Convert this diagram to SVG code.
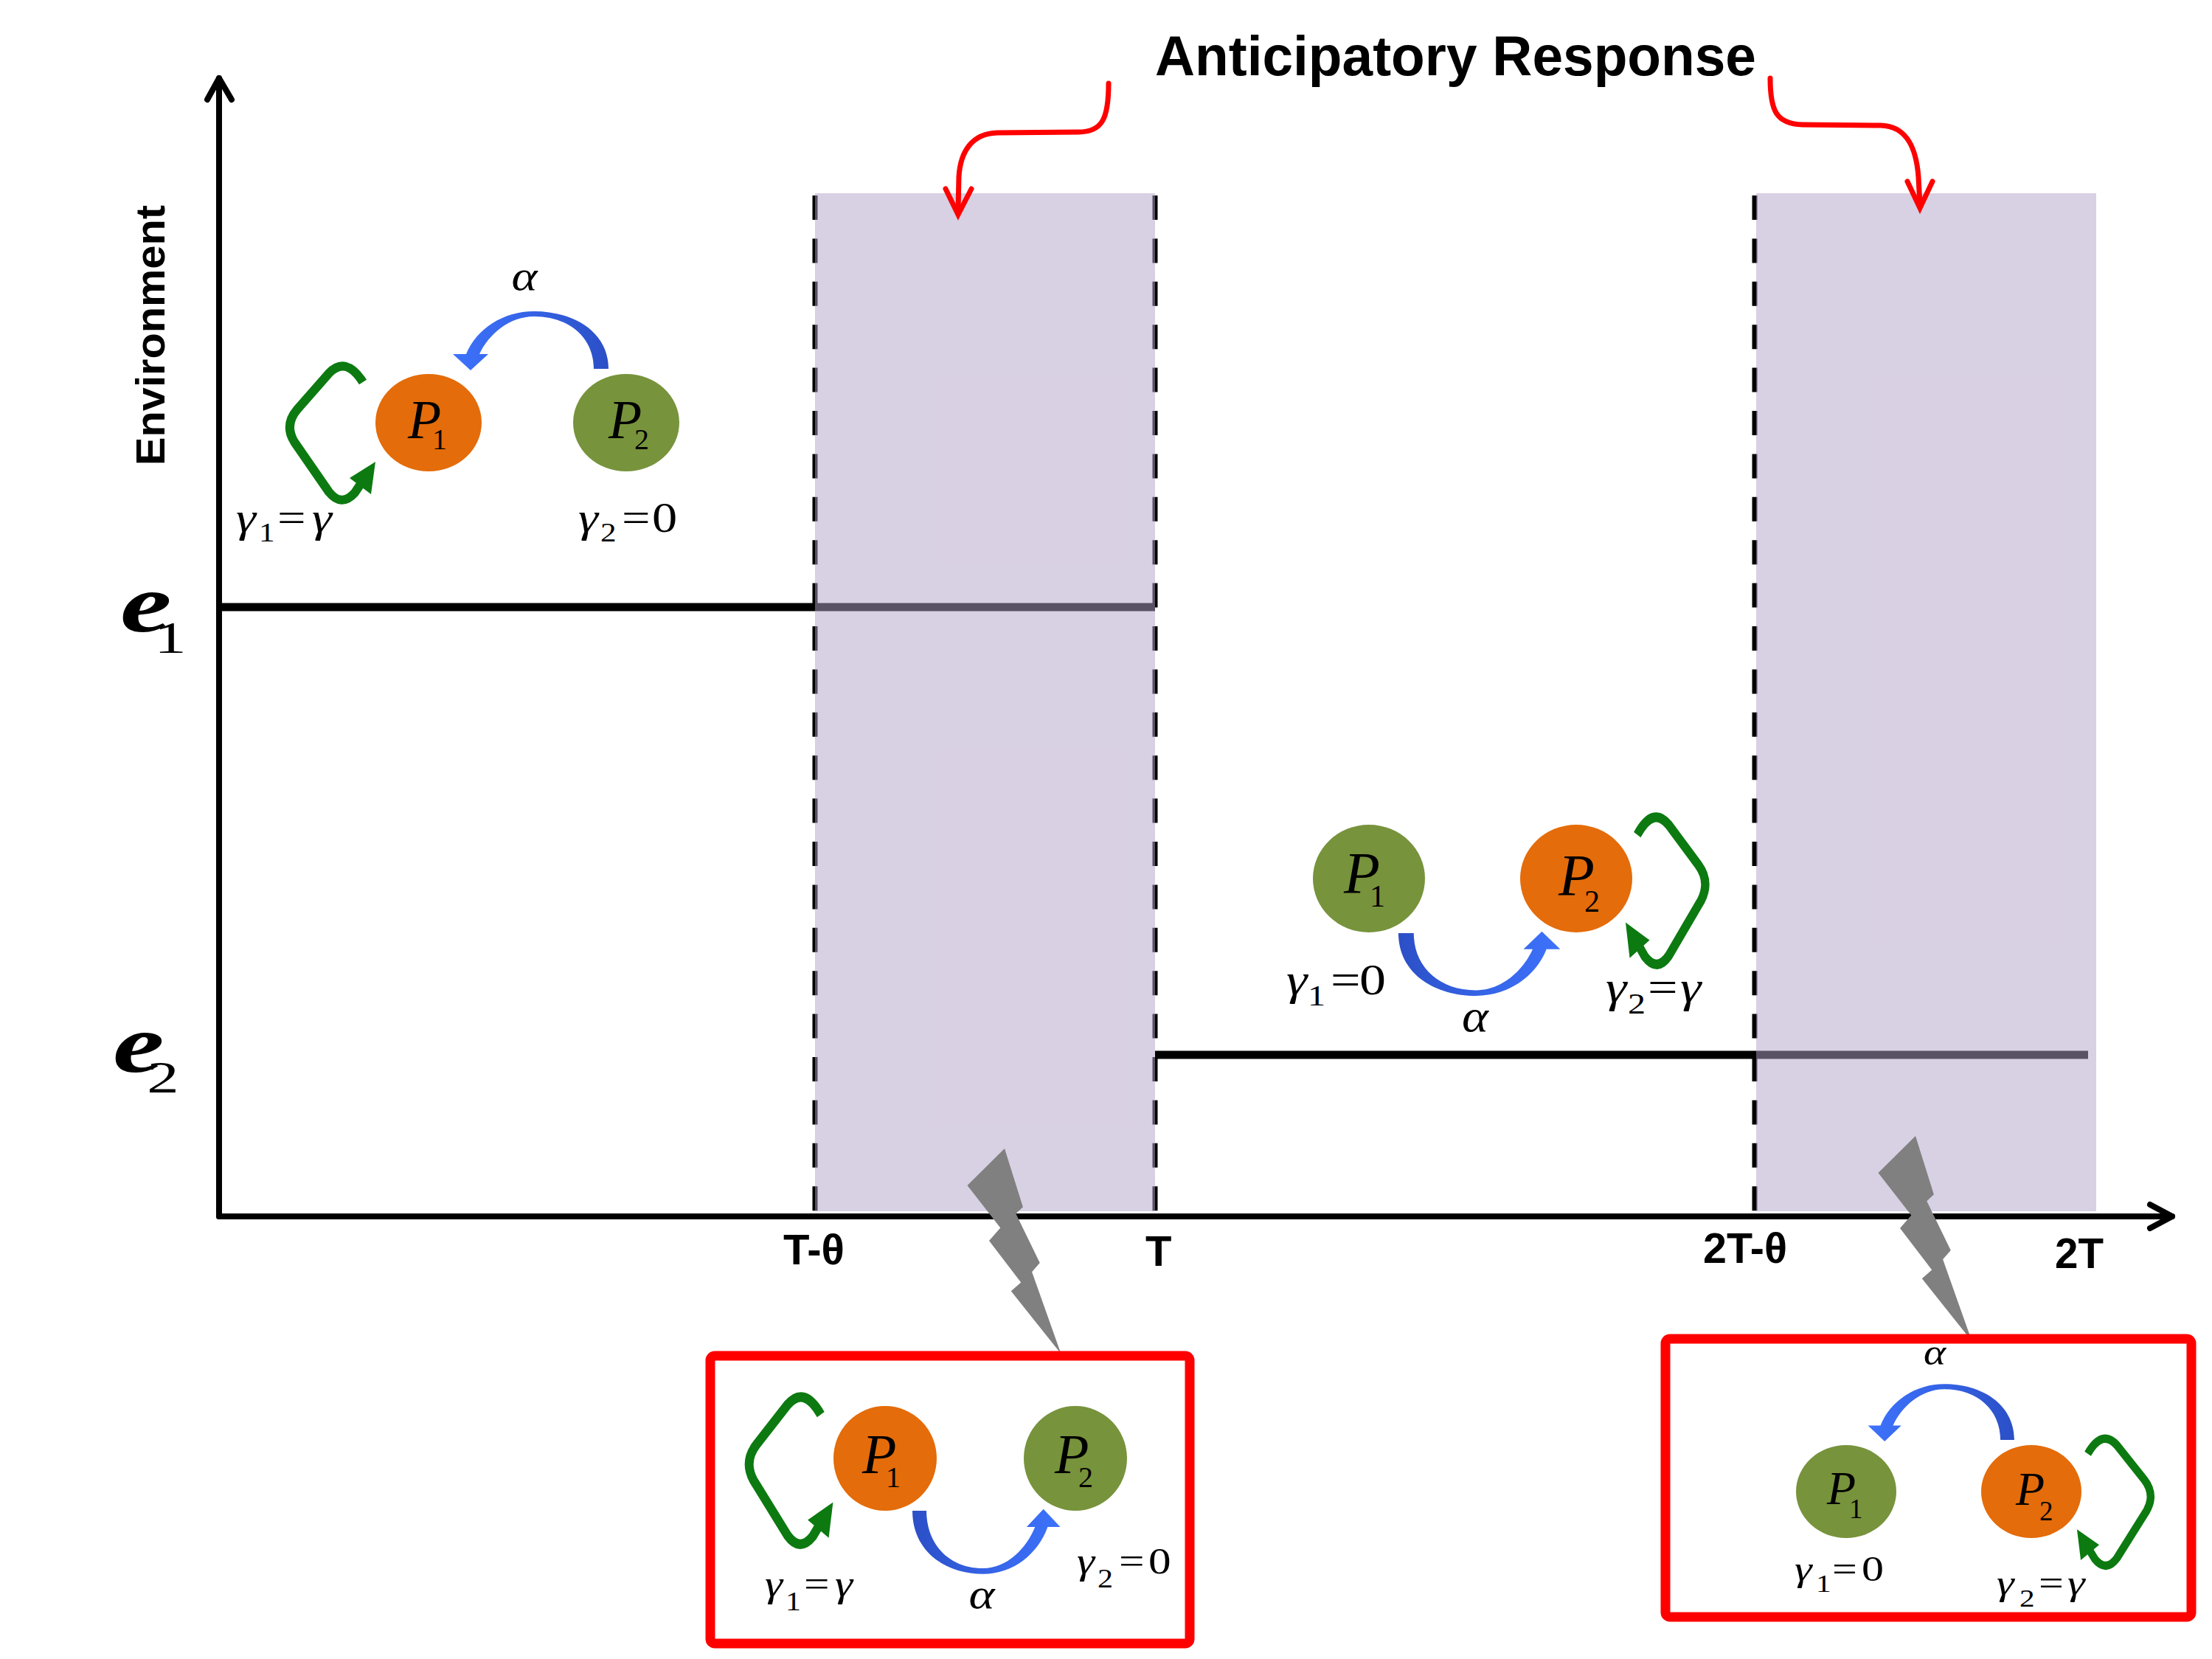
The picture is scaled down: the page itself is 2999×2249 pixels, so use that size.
<svg xmlns="http://www.w3.org/2000/svg" xmlns:xlink="http://www.w3.org/1999/xlink" width="2999" height="2249" viewBox="0 0 2999 2249">
<defs>
<style>
.m{font-family:"Liberation Serif","Times New Roman",serif;font-style:italic;fill:#000}
.u{font-family:"Liberation Serif","Times New Roman",serif;font-style:normal;fill:#000}
.lab{font-family:"Liberation Sans",Arial,sans-serif;font-weight:bold;fill:#000}
.axis{stroke:#000;stroke-width:8;fill:none;stroke-linecap:round;stroke-linejoin:round}
.lvl{stroke:#000;stroke-width:11;fill:none}
.dash{stroke:#000;stroke-width:7;stroke-dasharray:33 25.4;fill:none}
.shade{fill:rgb(178,161,200);fill-opacity:0.5}
.red{stroke:#ff0000;stroke-width:7;fill:none;stroke-linecap:round}
.redhead{stroke:#ff0000;stroke-width:7;fill:none;stroke-linecap:round;stroke-linejoin:miter}
.box{stroke:#ff0000;stroke-width:13;fill:none}
.orange{fill:#e46c0a}
.green{fill:#77933c}
.loop{stroke:#0c7a10;stroke-width:12;fill:none;stroke-linejoin:round}
.loophead{fill:#0c7a10}
.bolt{fill:#808080}
</style>
<linearGradient id="blueGrad" x1="0" y1="0" x2="1" y2="0">
<stop offset="0" stop-color="#3d72fb"/>
<stop offset="0.5" stop-color="#3563e6"/>
<stop offset="1" stop-color="#2b4fc6"/>
</linearGradient>
<path id="bluearc" fill="url(#blueGrad)" d="M101,0 C101,-50 54,-78 0,-78 C-42,-78 -78,-54 -92,-20 L-110,-20 L-86,2 L-62,-20 L-74,-20 C-62,-46 -34,-71 0,-71 C48,-71 81,-42 81,0 Z"/>
<g id="selfloop">
<path class="loop" d="M-89,-54 Q-112,-90 -135,-66 L-178,-17 Q-196,4 -182,27 L-135,95 Q-118,116 -100,96 L-84,72"/>
<polygon class="loophead" points="-72,54 -107,76 -78,98"/>
</g>
<polygon id="boltshape" class="bolt" points="0,0 24.9,79.3 15.3,88.3 47.8,155 37.1,167.3 76.5,278.3 8.8,193.3 22.2,181.6 -21,125 -5.7,107.6 -50.5,50"/>
</defs>
<rect x="0" y="0" width="2999" height="2249" fill="#fff"/>

<g id="connectors">
<line class="lvl" x1="297" y1="823" x2="1566" y2="823"/>
<line class="lvl" x1="1566" y1="1430" x2="2831" y2="1430"/>
<line class="dash" x1="1105" y1="265" x2="1105" y2="1645"/>
<line class="dash" x1="1566" y1="265" x2="1566" y2="1645"/>
<line class="dash" x1="2379" y1="265" x2="2379" y2="1645"/>
<line class="axis" x1="297" y1="1649" x2="297" y2="106"/>
<polyline class="axis" points="281,135 297,106 314,135"/>
<line class="axis" x1="297" y1="1649" x2="2945" y2="1649"/>
<polyline class="axis" points="2915,1633 2945,1649 2915,1665"/>
</g>

<g id="shades">
<rect class="shade" x="1105" y="262" width="461" height="1380"/>
<rect class="shade" x="2381" y="262" width="461" height="1380"/>
</g>

<g id="annotation-arrows">
<path class="red" d="M1503,113 C1503,160 1495,179 1462,179 L1352,180 C1318,181 1302,205 1300,240 L1299,286"/>
<polyline class="redhead" points="1282,256 1299,291 1317,256"/>
<path class="red" d="M2400,106 C2400,150 2408,168 2444,169 L2550,170 C2585,171 2598,200 2601,240 L2603,278"/>
<polyline class="redhead" points="2586,246 2603,282 2620,246"/>
</g>

<g id="bolts">
<use xlink:href="#boltshape" transform="translate(1362,1557)"/>
<use xlink:href="#boltshape" transform="translate(2597,1540)"/>
</g>

<g id="boxes">
<rect id="box1" class="box" x="963" y="1838" width="650" height="390" rx="6"/>
<rect id="box2" class="box" x="2258" y="1815" width="713" height="377" rx="6"/>
</g>

<g id="interaction-arrows">
<use xlink:href="#bluearc" transform="translate(724,500)"/>
<use xlink:href="#bluearc" transform="translate(2001,1265) rotate(180) scale(1.04,1.09)"/>
<use xlink:href="#bluearc" transform="translate(1333,2048) rotate(180) scale(0.95,1.1)"/>
<use xlink:href="#bluearc" transform="translate(2636,1952) scale(0.94,0.97)"/>
<use xlink:href="#selfloop" transform="translate(581,572)"/>
<use xlink:href="#selfloop" transform="translate(2137,1191) scale(-0.93,1.1)"/>
<use xlink:href="#selfloop" transform="translate(1200,1977) scale(0.98,1.1)"/>
<use xlink:href="#selfloop" transform="translate(2754,2022) scale(-0.86,0.95)"/>
</g>

<!-- Group A: top-left -->
<g id="A-P1">
<ellipse class="orange" cx="581" cy="573" rx="72" ry="66"/>
<text class="m" x="553" y="594" font-size="74">P<tspan class="u" x="586" y="609" font-size="40">1</tspan></text>
</g>
<g id="A-P2">
<ellipse class="green" cx="849" cy="573" rx="72" ry="66"/>
<text class="m" x="825" y="594" font-size="74">P<tspan class="u" x="860" y="609" font-size="40">2</tspan></text>
</g>
<g id="A-labels">
<text class="m" transform="translate(711,393) scale(1.15,1)" font-size="58" text-anchor="middle">α</text>
<text class="m" transform="translate(320,721) scale(1.2,1)" font-size="57">γ<tspan class="u" x="25.8" y="13" font-size="36">1</tspan><tspan class="u" x="46.7" y="0" font-size="57">=</tspan><tspan x="85.8" y="0">γ</tspan></text>
<text class="m" transform="translate(784,721) scale(1.2,1)" font-size="57">γ<tspan class="u" x="25" y="13" font-size="36">2</tspan><tspan class="u" x="49.2" y="0" font-size="57">=</tspan><tspan class="u" x="83.3" y="0" font-size="57">0</tspan></text>
</g>

<!-- Group B: middle-right -->
<g id="B-P1">
<ellipse class="green" cx="1856" cy="1191" rx="76" ry="73"/>
<text class="m" x="1822" y="1211" font-size="80">P<tspan class="u" x="1857" y="1229" font-size="42">1</tspan></text>
</g>
<g id="B-P2">
<ellipse class="orange" cx="2137" cy="1191" rx="76" ry="73"/>
<text class="m" x="2113" y="1214" font-size="80">P<tspan class="u" x="2148" y="1236" font-size="42">2</tspan></text>
</g>
<g id="B-labels">
<text class="m" transform="translate(2000,1398) scale(1.1,1)" font-size="62" text-anchor="middle">α</text>
<text class="m" transform="translate(1744,1348) scale(1.2,1)" font-size="60">γ<tspan class="u" x="24.2" y="15" font-size="40">1</tspan><tspan class="u" x="50" y="0" font-size="60">=</tspan><tspan class="u" x="82.5" y="0" font-size="60">0</tspan></text>
<text class="m" transform="translate(2177,1358) scale(1.2,1)" font-size="60">γ<tspan class="u" x="25" y="16" font-size="40">2</tspan><tspan class="u" x="47.5" y="0" font-size="60">=</tspan><tspan x="84.2" y="0">γ</tspan></text>
</g>

<!-- Group C: first red box -->
<g id="C-P1">
<ellipse class="orange" cx="1200" cy="1977" rx="70" ry="71"/>
<text class="m" x="1169" y="1997" font-size="76">P<tspan class="u" x="1201" y="2016" font-size="40">1</tspan></text>
</g>
<g id="C-P2">
<ellipse class="green" cx="1458" cy="1977" rx="70" ry="71"/>
<text class="m" x="1430" y="1997" font-size="76">P<tspan class="u" x="1462" y="2016" font-size="40">2</tspan></text>
</g>
<g id="C-labels">
<text class="m" transform="translate(1331,2180) scale(1.15,1)" font-size="58" text-anchor="middle">α</text>
<text class="m" transform="translate(1037,2164) scale(1.2,1)" font-size="51">γ<tspan class="u" x="23.3" y="19" font-size="35">1</tspan><tspan class="u" x="44.2" y="0" font-size="51">=</tspan><tspan x="79.2" y="0">γ</tspan></text>
<text class="m" transform="translate(1460,2133) scale(1.2,1)" font-size="51">γ<tspan class="u" x="23.3" y="19" font-size="35">2</tspan><tspan class="u" x="47.5" y="0" font-size="51">=</tspan><tspan class="u" x="80.8" y="0" font-size="51">0</tspan></text>
</g>

<!-- Group D: second red box -->
<g id="D-P1">
<ellipse class="green" cx="2503" cy="2022" rx="68" ry="63"/>
<text class="m" x="2477" y="2039" font-size="64">P<tspan class="u" x="2507" y="2058" font-size="37">1</tspan></text>
</g>
<g id="D-P2">
<ellipse class="orange" cx="2754" cy="2022" rx="68" ry="63"/>
<text class="m" x="2733" y="2040" font-size="64">P<tspan class="u" x="2765" y="2061" font-size="37">2</tspan></text>
</g>
<g id="D-labels">
<text class="m" transform="translate(2623,1850) scale(1.15,1)" font-size="50" text-anchor="middle">α</text>
<text class="m" transform="translate(2433,2143) scale(1.25,1)" font-size="48">γ<tspan class="u" x="23.2" y="15" font-size="33">1</tspan><tspan class="u" x="40.8" y="0" font-size="48">=</tspan><tspan class="u" x="72.8" y="0" font-size="48">0</tspan></text>
<text class="m" transform="translate(2707,2162) scale(1.25,1)" font-size="48">γ<tspan class="u" x="24.8" y="16" font-size="33">2</tspan><tspan class="u" x="45.6" y="0" font-size="48">=</tspan><tspan x="76.8" y="0">γ</tspan></text>
</g>

<g id="labels">
<text class="lab" x="1566" y="102" font-size="76" textLength="815" lengthAdjust="spacingAndGlyphs">Anticipatory Response</text>
<text class="lab" font-size="56" transform="translate(223,631) rotate(-90)" textLength="353" lengthAdjust="spacingAndGlyphs">Environment</text>
<text class="lab" x="1062" y="1714" font-size="58" textLength="83" lengthAdjust="spacingAndGlyphs">T-θ</text>
<text class="lab" x="1553" y="1716" font-size="58">T</text>
<text class="lab" x="2309" y="1712" font-size="58" textLength="114" lengthAdjust="spacingAndGlyphs">2T-θ</text>
<text class="lab" x="2786" y="1719" font-size="58" textLength="66" lengthAdjust="spacingAndGlyphs">2T</text>
<text class="m" transform="translate(163,856) scale(1.4,1)" font-size="112" font-weight="bold">e<tspan class="u" font-weight="normal" x="33" y="29" font-size="62">1</tspan></text>
<text class="m" transform="translate(153,1453) scale(1.4,1)" font-size="112" font-weight="bold">e<tspan class="u" font-weight="normal" x="33" y="28" font-size="62">2</tspan></text>
</g>
</svg>
